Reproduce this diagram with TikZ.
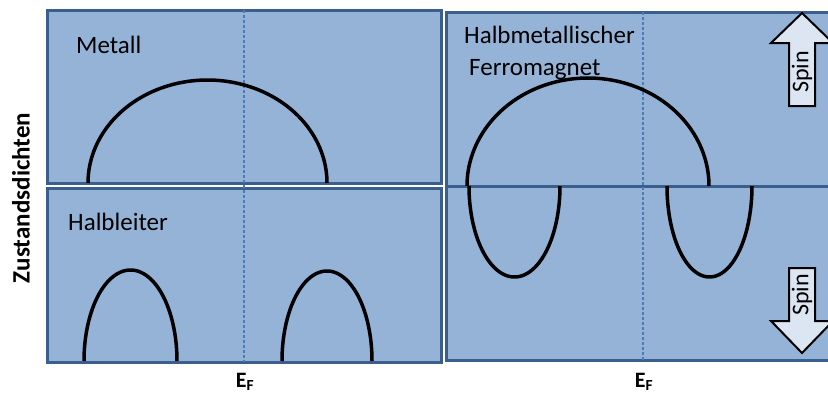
\documentclass[tikz,border=0pt]{standalone}
\usepackage{fontspec}
\setmainfont{Carlito}
\usetikzlibrary{positioning}
\definecolor{dosFill} {HTML}{95B3D7}
\definecolor{dosEdge} {HTML}{3B5F8C}
\definecolor{dosDot}  {HTML}{4A7CBA}
\definecolor{spinFill}{HTML}{DCE6F2}
\tikzset{
  panel/.style    = {draw=dosEdge, fill=dosFill, line width=3pt},
  sep/.style      = {draw=dosEdge, line width=3pt},
  fermi/.style    = {dosDot, line width=2.5pt, dash pattern=on 2.5pt off 2.5pt},
  dos/.style      = {black, line width=3.5pt},
  lbl/.style      = {anchor=base west, inner sep=0pt,
                     font=\fontsize{25}{30}\selectfont},
  ef/.style       = {anchor=base, inner sep=0pt,
                     font=\fontsize{22}{26}\selectfont\bfseries},
  spinarrow/.style= {draw=black, fill=spinFill, line width=2pt, line join=miter},
  spintext/.style = {rotate=90, inner sep=0pt,
                     font=\fontsize{24}{28}\selectfont},
}

\begin{document}
\begin{tikzpicture}[x=1pt, y=-1pt]

  \fill[white] (0,0) rectangle (828,394);
  \clip (0,0) rectangle (828,394);

  % ---- Panels ----
  \draw[panel] (47,10)  rectangle (441,183);
  \draw[panel] (47,188) rectangle (441,362);
  \draw[panel] (446,12) rectangle (845,360);
  \draw[sep]   (446,186) -- (845,186);

  % ---- Fermi level ----
  \draw[fermi] (244,10) -- (244,362);
  \draw[fermi] (643,12) -- (643,360);

  % ---- Metall ----
  \draw[dos] plot[domain=180:0, samples=90]
    ({207.5+119.5*cos(\x)}, {183-103*sin(\x)});

  % ---- Halbleiter ----
  \draw[dos] plot[domain=180:0, samples=90]
    ({130.5+46.5*cos(\x)}, {361-91*sin(\x)});
  \draw[dos] plot[domain=180:0, samples=90]
    ({327+45*cos(\x)}, {361-90*sin(\x)});

  % ---- Halbmetallischer Ferromagnet ----
  \draw[dos] plot[domain=180:0, samples=90]
    ({588+121*cos(\x)}, {186-108*sin(\x)});
  \draw[dos] plot[domain=180:360, samples=90]
    ({514.5+45.5*cos(\x)}, {186-91*sin(\x)});
  \draw[dos] plot[domain=180:360, samples=90]
    ({709.5+42.5*cos(\x)}, {186-91*sin(\x)});

  % ---- Spin arrows ----
  \draw[spinarrow] (789,106) -- (789,43) -- (771,43) -- (802,13)
                   -- (833,43) -- (815,43) -- (815,106) -- cycle;
  \draw[spinarrow] (789,268) -- (789,321) -- (771,321) -- (802,353)
                   -- (833,321) -- (815,321) -- (815,268) -- cycle;
  \node[spintext] (spinup)   at (802,72)  {Spin};
  \node[spintext] (spindown) at (802,295) {Spin};

  % ---- Labels ----
  \node[lbl] (metall) at (76,53)  {Metall};
  \node[lbl] (halbl)  at (68,230) {Halbleiter};
  \node[lbl] (hmf)    at (464,43) {Halbmetallischer};
  \node[lbl] (ferro)  at (469,75) {Ferromagnet};

  \node[rotate=90, inner sep=0pt, font=\fontsize{25}{30}\selectfont\bfseries]
    (zdichte) at (21,198) {Zustandsdichten};

  \node[ef] (efleft)  at (245,387) {E\textsubscript{F}};
  \node[ef] (efright) at (644,387) {E\textsubscript{F}};

\end{tikzpicture}
\end{document}
